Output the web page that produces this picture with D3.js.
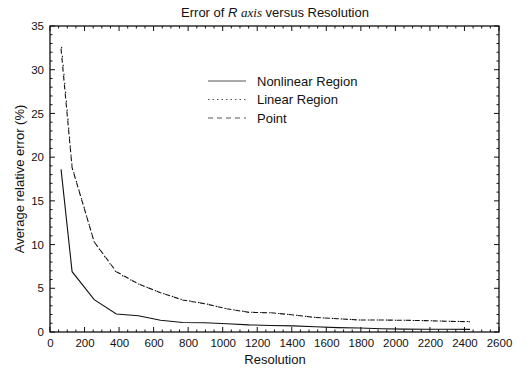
<!DOCTYPE html>
<html><head><meta charset="utf-8">
<script src="https://cdn.jsdelivr.net/npm/d3@7/dist/d3.min.js"></script>
<style>body{margin:0;background:#fff}svg{display:block}text{font-family:"Liberation Sans",Arial,sans-serif;fill:#111}</style>
</head><body><svg id="c" width="526" height="371"></svg>
<script>
const resolution = [64,128,256,384,512,640,768,896,1024,1152,1280,1408,1536,1664,1792,1920,2048,2176,2304,2432];
const nonlinear = [18.6,6.9,3.7,2.06,1.85,1.35,1.08,1.05,0.95,0.82,0.75,0.7,0.6,0.5,0.45,0.38,0.33,0.32,0.31,0.3];
const linearRegion = [33.3,18.9,10.3,6.8,5.5,4.5,3.68,3.26,2.66,2.27,2.2,1.96,1.67,1.52,1.38,1.37,1.34,1.3,1.23,1.19];
const point = [32.4,18.8,10.3,6.9,5.5,4.5,3.66,3.24,2.65,2.25,2.2,1.95,1.66,1.52,1.37,1.37,1.34,1.3,1.22,1.18];
const xTicks = [0,200,400,600,800,1000,1200,1400,1600,1800,2000,2200,2400,2600];
const yTicks = [0,5,10,15,20,25,30,35];
const seriesNames = ["Nonlinear Region","Linear Region","Point"];

const svg = d3.select("#c");
const L=50,R=499,T=26,B=332;
const x = d3.scaleLinear().domain([0,2600]).range([L,R]);
const y = d3.scaleLinear().domain([0,35]).range([B,T]);

svg.append("rect").attr("x",L).attr("y",T).attr("width",R-L).attr("height",B-T)
  .attr("fill","none").attr("stroke","#111").attr("stroke-width",1.3);

const xMinor = d3.range(0,2601,50), yMinor = d3.range(0,35.01,1);
const g = svg.append("g").attr("stroke","#111").attr("stroke-width",1);
xMinor.forEach(v=>{const len = v%200===0?5:2.5;
  g.append("line").attr("x1",x(v)).attr("x2",x(v)).attr("y1",B).attr("y2",B-len);
  g.append("line").attr("x1",x(v)).attr("x2",x(v)).attr("y1",T).attr("y2",T+len);});
yMinor.forEach(v=>{const len = v%5===0?5:2.5;
  g.append("line").attr("y1",y(v)).attr("y2",y(v)).attr("x1",L).attr("x2",L+len);
  g.append("line").attr("y1",y(v)).attr("y2",y(v)).attr("x1",R).attr("x2",R-len);});

const xa = svg.append("g").attr("transform",`translate(0,${B})`)
  .call(d3.axisBottom(x).tickValues(xTicks).tickSize(0).tickPadding(7).tickFormat(d3.format("d")));
const ya = svg.append("g").attr("transform",`translate(${L},0)`)
  .call(d3.axisLeft(y).tickValues(yTicks).tickSize(0).tickPadding(6));
[xa,ya].forEach(a=>{a.select(".domain").remove();a.selectAll("text").style("font-size","11.5px").style("font-family","Liberation Sans, Arial, sans-serif").attr("fill","#111");});

const title = svg.append("text").attr("x",275).attr("y",17).attr("text-anchor","middle").style("font-size","13px");
title.append("tspan").text("Error of ");
title.append("tspan").style("font-style","italic").text("R ");
title.append("tspan").style("font-style","italic").style("font-family","Liberation Serif, serif").text("axis");
title.append("tspan").text(" versus Resolution");

svg.append("text").attr("x",275).attr("y",364).attr("text-anchor","middle").style("font-size","13px").text("Resolution");
svg.append("text").attr("transform","translate(24,179) rotate(-90)").attr("text-anchor","middle").style("font-size","13px").text("Average relative error (%)");

const dashes = [null,"1.5,7.5","5,4"];
const offsets = [0,-6,0];
const data = [nonlinear, linearRegion, point];
const line = d3.line().x((d,i)=>x(resolution[i])).y(d=>y(d));
data.forEach((vals,k)=>{
  svg.append("path").datum(vals).attr("d",line).attr("fill","none")
    .attr("stroke","#111").attr("stroke-width",1.1)
    .attr("stroke-dasharray",dashes[k]).attr("stroke-dashoffset",offsets[k]);
});

seriesNames.forEach((n,k)=>{
  const ly = 81 + k*18.5;
  svg.append("line").attr("x1",208).attr("x2",246).attr("y1",ly).attr("y2",ly)
    .attr("stroke","#555").attr("stroke-width",1).attr("stroke-dasharray",k===1?"1.5,3":dashes[k]);
  svg.append("text").attr("x",257).attr("y",ly+4.5).style("font-size","13px").text(n);
});
</script></body></html>
